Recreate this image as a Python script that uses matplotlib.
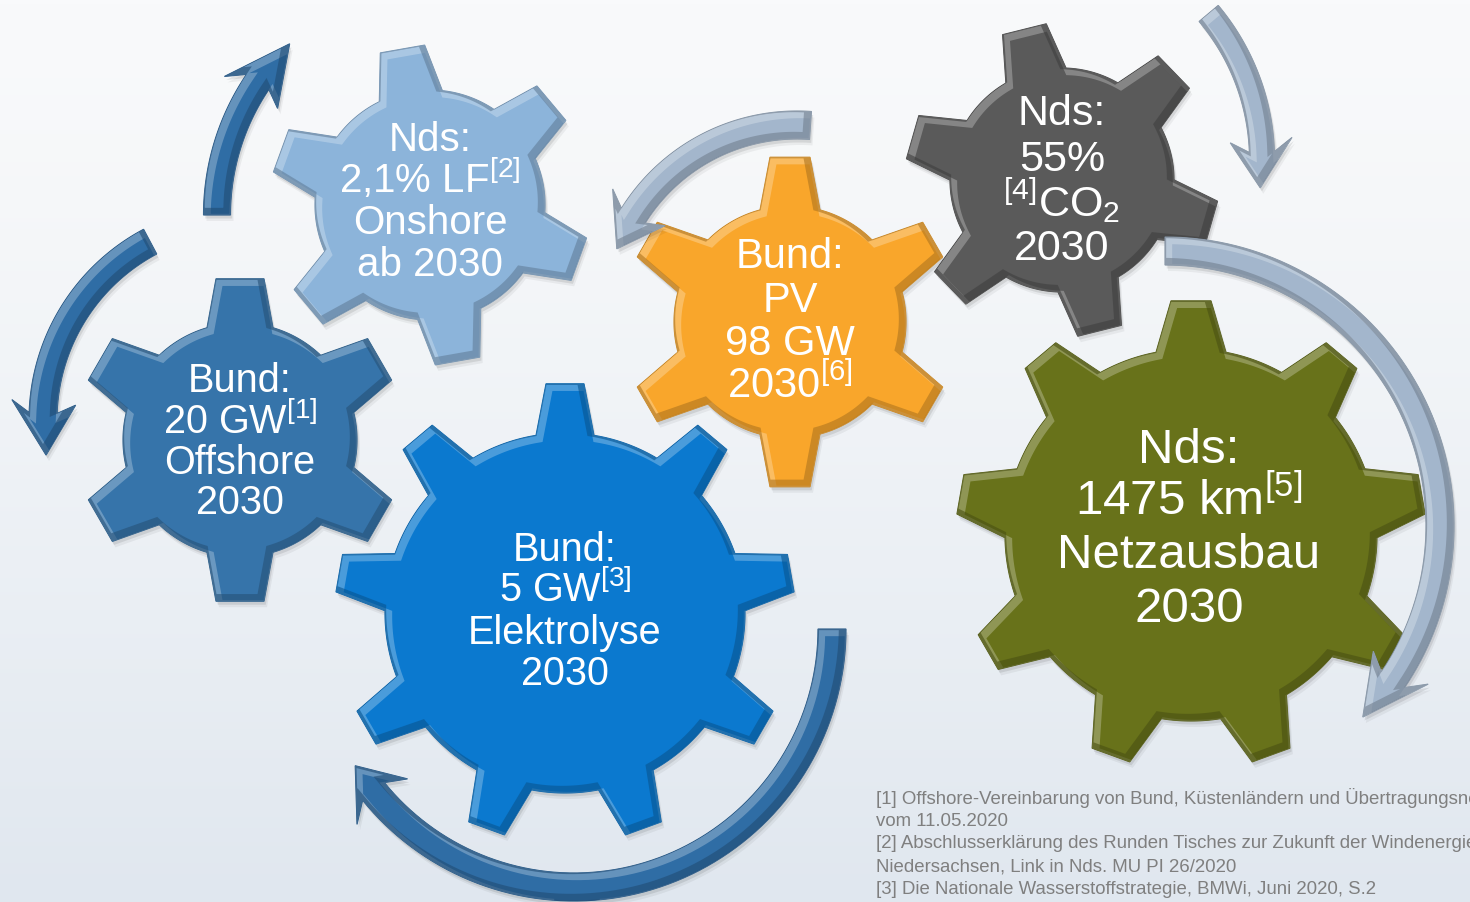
import numpy as np
import matplotlib.pyplot as plt
from matplotlib.patches import Polygon
from matplotlib.colors import to_rgb

plt.rcParams['font.family'] = ['Liberation Sans', 'DejaVu Sans']
plt.rcParams['mathtext.fontset'] = 'custom'
plt.rcParams['mathtext.rm'] = 'Liberation Sans'
plt.rcParams['mathtext.it'] = 'Liberation Sans:italic'
plt.rcParams['mathtext.bf'] = 'Liberation Sans:bold'
plt.rcParams['mathtext.default'] = 'rm'

W, H = 1470, 902

# gear contents
gear_text = [
    ['Nds:', '2,1% LF$^{[2]}$', 'Onshore', 'ab 2030'],
    ['Bund:', '20 GW$^{[1]}$', 'Offshore', '2030'],
    ['Bund:', '5 GW$^{[3]}$', 'Elektrolyse', '2030'],
    ['Bund:', 'PV', '98 GW', '2030$^{[6]}$'],
    ['Nds:', '55%', '$^{[4]}$CO$_{2}$', '2030'],
    ['Nds:', '1475 km$^{[5]}$', 'Netzausbau', '2030'],
]
gear_colors = ['#8cb4da', '#3674aa', '#0b79cf', '#f9a62b', '#5a5a5a', '#68721a']
gear_teeth = [6, 6, 9, 6, 6, 9]

footnotes = [
    '[1] Offshore-Vereinbarung von Bund, Küstenländern und Übertragungsnetzbetreibern',
    'vom 11.05.2020',
    '[2] Abschlusserklärung des Runden Tisches zur Zukunft der Windenergie in',
    'Niedersachsen, Link in Nds. MU PI 26/2020',
    '[3] Die Nationale Wasserstoffstrategie, BMWi, Juni 2020, S.2',
]

# layout (pixels, y downwards)
gear_centers = [(430, 205), (240, 440), (565, 613), (790, 322), (1062, 180), (1191, 535)]
gear_rot = [100, 90, 90, 90, 104, 90]
gear_R = [160, 163, 230, 166, 157, 235]
gear_r = [115, 117, 180, 116, 112, 186]
tooth_tip = [45, 48, 38, 40, 45, 40]
tooth_base = [64, 66, 58, 60, 62, 70]
text_x = [430, 240, 565, 790, 1062, 1189]
text_y = [[137, 179, 220, 262], [378, 420, 460, 500], [547, 588, 630, 671],
          [253, 297, 340, 383], [110, 156, 201, 245], [445, 497, 550, 604]]
text_size = [29, 28.5, 28.5, 30, 31, 35.5]

dark_arrow = '#2f6da5'
light_arrow = '#a3b6cc'
# centre, radius, start angle, head base angle, tip angle, width, head half width, colour
arrows = [
    ((455, 215), 238, 180, 146, 134, 27, 31, dark_arrow),
    ((245, 420), 202, 118, 178, 190, 28, 32, dark_arrow),
    ((797, 318), 193, 86, 148, 159, 28, 32, light_arrow),
    ((1034, 160), 228, 40, 2, -7, 25, 31, light_arrow),
    ((1165, 526), 275, 90, -34, -44, 28, 32, light_arrow),
    ((574, 629), 258, 0, -141, -148, 28, 34, dark_arrow),
]


def pt(c, r, a):
    t = np.radians(a)
    return c[0] + r * np.cos(t), c[1] - r * np.sin(t)


def tint(col, f):
    c = np.array(to_rgb(col))
    return tuple(c + (1 - c) * f)


def shade(col, f):
    return tuple(np.array(to_rgb(col)) * f)


def gear_poly(c, n, rot, R, r, tip, base):
    hb = np.degrees(np.arcsin(base / 2 / r))
    ht = np.degrees(np.arcsin(tip / 2 / R))
    step = 360 / n
    pts = []
    for i in range(n):
        a = rot + i * step
        pts += [pt(c, r, a - hb), pt(c, R, a - ht), pt(c, R, a + ht), pt(c, r, a + hb)]
        for b in np.linspace(a + hb, a + step - hb, 24)[1:-1]:
            pts.append(pt(c, r, b))
    return np.array(pts)


def arrow_poly(c, r, a0, ab, at, w, hw):
    s = np.sign(ab - a0)
    arc = np.linspace(a0, ab, 80)
    outer = [pt(c, r + w / 2, a) for a in arc]
    inner = [pt(c, r - w / 2, a) for a in arc[::-1]]
    head = [pt(c, r + hw, ab - s * 3), pt(c, r, at), pt(c, r - hw, ab - s * 3)]
    return np.array(outer + head + inner)


def draw_shape(ax, pts, color, z):
    # soft drop shadow
    for k, a in [(6, 0.05), (3.5, 0.09)]:
        ax.add_patch(Polygon(pts + [k * 0.5, k], closed=True, fc='black', ec='none',
                             alpha=a, zorder=z))
    p = Polygon(pts, closed=True, fc=color, ec=shade(color, 0.8), lw=0.8, zorder=z + 0.1)
    ax.add_patch(p)
    # bevel: light rim on upper-left edges, dark rim on lower-right edges
    for off, col, a in [((3, 3), tint(color, 0.35), 0.75), ((-3, -3), shade(color, 0.7), 0.6)]:
        b = Polygon(pts + off, closed=True, fc='none', ec=col, lw=6, alpha=a,
                    zorder=z + 0.2, joinstyle='miter')
        b.set_clip_path(p)
        ax.add_patch(b)


fig = plt.figure(figsize=(14.7, 9.02), dpi=100)
ax = fig.add_axes([0, 0, 1, 1])
ax.set_xlim(0, W)
ax.set_ylim(H, 0)
ax.axis('off')

# background gradient
top = np.array(to_rgb('#f9fafb'))
bot = np.array(to_rgb('#e0e7ef'))
t = np.linspace(0, 1, 256)[:, None, None]
grad = top + (bot - top) * t ** 1.3
grad = np.repeat(grad, 2, axis=1)
ax.imshow(grad, extent=[0, W, H, 0], aspect='auto', zorder=0)

for i in range(len(gear_text)):
    pts = gear_poly(gear_centers[i], gear_teeth[i], gear_rot[i], gear_R[i], gear_r[i],
                    tooth_tip[i], tooth_base[i])
    draw_shape(ax, pts, gear_colors[i], 2 + i)
    px = text_size[i] * 100 / 72
    for line, y in zip(gear_text[i], text_y[i]):
        ax.text(text_x[i], y + 0.358 * px, line, ha='center', va='baseline',
                fontsize=text_size[i], color='white', zorder=20)

for c, r, a0, ab, at, w, hw, col in arrows:
    draw_shape(ax, arrow_poly(c, r, a0, ab, at, w, hw), col, 12)

for k, line in enumerate(footnotes):
    ax.text(876, 803.5 + k * 22.5, line, ha='left', va='baseline', fontsize=13.4,
            color='#7f7f7f', zorder=20)

fig.savefig('out.png', dpi=100)
